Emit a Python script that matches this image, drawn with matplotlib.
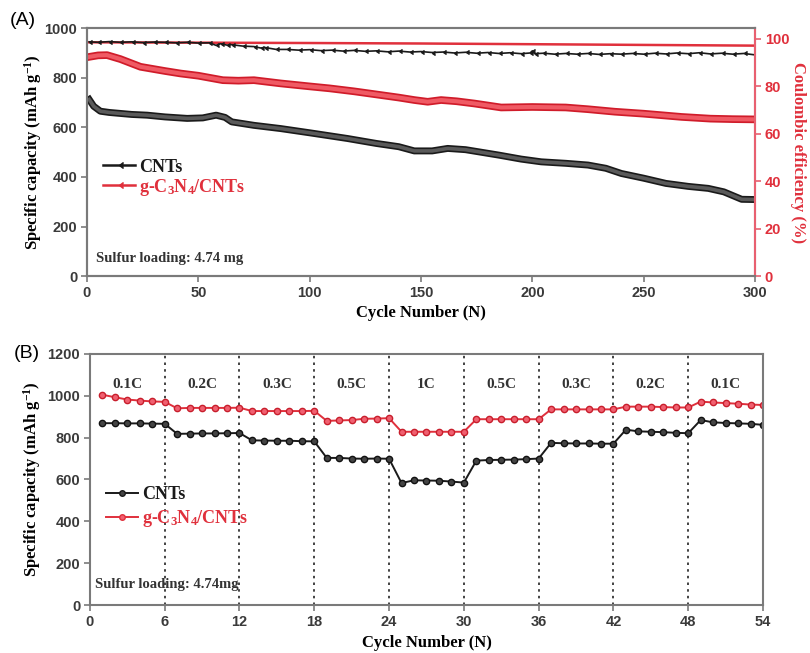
import matplotlib.pyplot as plt
from matplotlib.lines import Line2D
import matplotlib.patheffects as pe

plt.rcParams['font.family'] = ['Liberation Serif', 'DejaVu Serif']
plt.rcParams['mathtext.fontset'] = 'custom'
plt.rcParams['mathtext.rm'] = 'Liberation Serif:bold'
plt.rcParams['mathtext.it'] = 'Liberation Serif:bold:italic'
plt.rcParams['mathtext.bf'] = 'Liberation Serif:bold'

# panel A: long cycling, key points
cnt_cyc = [1, 3, 6, 10, 20, 27, 35, 45, 52, 58, 62, 65, 75, 87, 100, 117, 130, 140, 147, 155,
           162, 170, 185, 195, 204, 215, 225, 233, 240, 250, 260, 270, 279, 286, 290, 294, 300]
cnt_cap = [712, 685, 665, 660, 652, 649, 642, 636, 638, 649, 640, 622, 608, 595, 578, 555, 535, 522, 505, 505,
           515, 510, 488, 472, 461, 455, 448, 435, 414, 395, 374, 362, 354, 340, 325, 310, 309]
gcn_cyc = [1, 5, 9, 15, 24, 35, 42, 50, 61, 68, 75, 87, 100, 109, 120, 132, 140, 147, 153, 159,
           166, 174, 186, 200, 215, 225, 237, 250, 267, 280, 290, 300]
gcn_cap = [884, 890, 891, 875, 844, 827, 817, 808, 790, 788, 790, 777, 765, 757, 745, 730, 720, 710, 703, 710,
           705, 696, 680, 682, 680, 673, 663, 655, 642, 635, 633, 632]
cnt_ce_cyc = [1, 5, 10, 15, 20, 25, 30, 35, 40, 45, 50, 55, 58, 60, 63, 65, 70, 75, 78, 80,
              85, 90, 95, 100, 105, 110, 115, 120, 125, 130, 135, 140, 145, 150, 155, 160, 165, 170,
              175, 180, 185, 190, 195, 199, 200, 201, 205, 210, 215, 220, 225, 230, 235, 240, 245,
              250, 255, 260, 265, 270, 275, 280, 285, 290, 295, 300]
cnt_ce = [98.8, 98.6, 98.9, 98.6, 98.8, 98.5, 98.7, 98.6, 98.4, 98.6, 98.3, 98.4, 97.3, 98.0, 97.4, 97.6, 97.0, 96.8, 96.2, 96.4,
          95.6, 95.6, 95.3, 95.5, 95.1, 95.3, 94.9, 95.2, 94.8, 95.0, 94.6, 94.9, 94.5, 94.7, 94.3, 94.5, 94.1, 94.4,
          94.0, 94.3, 93.9, 94.2, 93.8, 94.1, 95.0, 93.8, 94.0, 93.6, 93.9, 93.6, 93.9, 93.5, 93.8, 93.6, 93.9,
          93.6, 94.0, 93.7, 94.1, 93.8, 94.2, 93.7, 94.0, 93.6, 93.9, 93.3]
gcn_ce_cyc = [1, 100, 150, 200, 250, 300]
gcn_ce = [98.6, 98.3, 98.1, 97.8, 97.5, 97.2]

# panel B: rate test
rate_cyc = list(range(1, 55))
cnt_rate = [869, 869, 868, 868, 867, 866, 818, 819, 820, 820, 821, 822,
            787, 786, 785, 785, 783, 782, 703, 703, 700, 699, 700, 699,
            583, 596, 595, 594, 590, 585, 690, 693, 694, 695, 697, 700,
            775, 773, 772, 772, 771, 771, 838, 830, 828, 826, 823, 821,
            884, 873, 870, 868, 866, 861]
gcn_rate = [1005, 993, 982, 977, 973, 971, 940, 942, 942, 942, 942, 943,
            927, 927, 927, 927, 927, 928, 880, 882, 884, 890, 891, 893,
            828, 828, 828, 828, 828, 828, 888, 888, 888, 888, 888, 888,
            935, 935, 935, 935, 935, 935, 948, 948, 948, 946, 944, 944,
            972, 968, 965, 962, 958, 956]
rate_labels = ['0.1C', '0.2C', '0.3C', '0.5C', '1C', '0.5C', '0.3C', '0.2C', '0.1C']
rate_edges = [6, 12, 18, 24, 30, 36, 42, 48]

RED = '#e0303c'
GREY = '#7a7a7a'
TICK = '#3a3a3a'
lab_font = dict(fontsize=12, fontweight='bold')
tick_font = dict(family='Liberation Sans', weight='bold', size=10.5)

fig = plt.figure(figsize=(8.1, 6.53), dpi=100)
axA = fig.add_axes([0.1074, 0.577, 0.8247, 0.380])
axB = fig.add_axes([0.111, 0.0735, 0.831, 0.3845])

# ---- (A)
axA.plot(cnt_cyc, cnt_cap, color='#5a5a5a', lw=2.6,
         path_effects=[pe.Stroke(linewidth=5, foreground='#1a1a1a'), pe.Normal()])
axA.plot(gcn_cyc, gcn_cap, color='#f05a64', lw=3,
         path_effects=[pe.Stroke(linewidth=5.5, foreground='#d01c2a'), pe.Normal()])
axA.set_xlim(0, 300)
axA.set_ylim(0, 1000)
axA.set_xticks(range(0, 301, 50))
axA.set_yticks(range(0, 1001, 200))

axA2 = axA.twinx()
axA2.plot(gcn_ce_cyc, gcn_ce, color=RED, lw=1.8)
axA2.plot(cnt_ce_cyc, cnt_ce, color='#1a1a1a', lw=1.2, marker=4, ms=2.5)
axA2.set_ylim(0, 104.6)
axA2.set_yticks(range(0, 101, 20))

axA.set_xlabel('Cycle Number (N)', va='center', **lab_font)
axA.xaxis.set_label_coords(0.5, -0.149)
axA.set_ylabel('Specific capacity (mAh g$^{-1}$)', va='center', **lab_font)
axA.yaxis.set_label_coords(-0.081, 0.5)
axA2.set_ylabel('Coulombic efficiency (%)', rotation=270, va='center', color=RED, **lab_font)
axA2.yaxis.set_label_coords(1.064, 0.5)

axA.text(0.013, 0.072, 'Sulfur loading: 4.74 mg', transform=axA.transAxes, fontsize=10.5,
         fontweight='bold', color='#333333', va='center')
hA = [Line2D([], [], color='#1a1a1a', lw=1.8, marker=4, ms=4, markevery=[1]),
      Line2D([], [], color=RED, lw=1.8, marker=4, ms=4, markevery=[1])]
axA.legend(hA, ['CNTs', 'g-C$_3$N$_4$/CNTs'], loc='upper left', bbox_to_anchor=(0.01, 0.51),
           frameon=False, handlelength=1.8, handletextpad=0.2, borderpad=0, labelspacing=0.05,
           prop=dict(size=13, weight='bold'), labelcolor='linecolor')

# ---- (B)
axB.plot(rate_cyc, cnt_rate, color='#1a1a1a', lw=1.4, marker='o', ms=4.5,
         markerfacecolor='#444444', markeredgecolor='#111111')
axB.plot(rate_cyc, gcn_rate, color=RED, lw=1.4, marker='o', ms=4.5,
         markerfacecolor='#f06070', markeredgecolor='#c81e2c')
for e in rate_edges:
    axB.axvline(e, color='#222222', ls=(0, (1.5, 2.5)), lw=1.2, zorder=0)
for i, t in enumerate(rate_labels):
    axB.text(3 + 6 * i, 1052, t, ha='center', va='center', fontsize=11, fontweight='bold', color='#333333')
axB.set_xlim(0, 54)
axB.set_ylim(0, 1200)
axB.set_xticks(range(0, 55, 6))
axB.set_yticks(range(0, 1201, 200))
axB.set_xlabel('Cycle Number (N)', va='center', **lab_font)
axB.xaxis.set_label_coords(0.5, -0.151)
axB.set_ylabel('Specific capacity (mAh g$^{-1}$)', va='center', **lab_font)
axB.yaxis.set_label_coords(-0.086, 0.5)
axB.text(0.008, 0.08, 'Sulfur loading: 4.74mg', transform=axB.transAxes, fontsize=10.5,
         fontweight='bold', color='#333333', va='center')
hB = [Line2D([], [], color='#1a1a1a', lw=1.4, marker='o', ms=4, markevery=[1],
             markerfacecolor='#444444'),
      Line2D([], [], color=RED, lw=1.4, marker='o', ms=4, markevery=[1], markerfacecolor='#f06070')]
axB.legend(hB, ['CNTs', 'g-C$_3$N$_4$/CNTs'], loc='upper left', bbox_to_anchor=(0.01, 0.51),
           frameon=False, handlelength=1.8, handletextpad=0.2, borderpad=0, labelspacing=0.3,
           prop=dict(size=13, weight='bold'), labelcolor='linecolor')

for ax in (axA, axA2, axB):
    for s in ax.spines.values():
        s.set_color(GREY)
        s.set_linewidth(1.5)
    ax.tick_params(length=4, width=1.2, color=GREY, labelcolor=TICK, pad=3)
    for lb in ax.get_xticklabels() + ax.get_yticklabels():
        lb.set_fontproperties(tick_font)
axA2.spines['right'].set_color('#e86070')
axA2.tick_params(axis='y', color='#e86070', labelcolor=RED)

fig.text(0.012, 0.969, '(A)', fontsize=14, family='Liberation Sans', va='center')
fig.text(0.017, 0.458, '(B)', fontsize=14, family='Liberation Sans', va='center')

fig.savefig('out.png', dpi=100)
